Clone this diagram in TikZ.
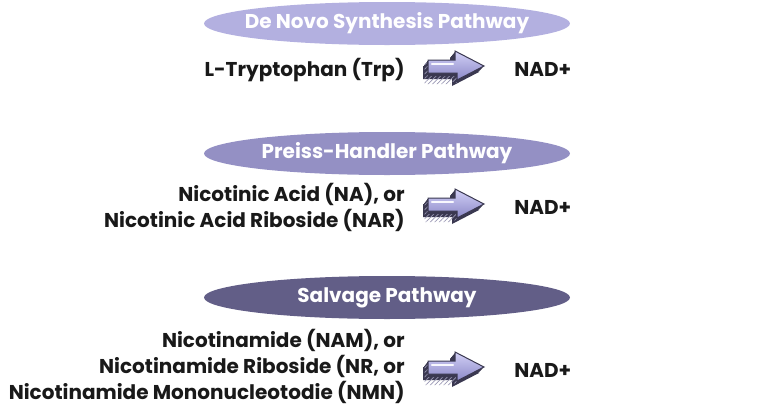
\documentclass[tikz,border=0pt]{standalone}
\usepackage{fontspec}
\setmainfont{Poppins}
\usetikzlibrary{shapes.geometric,patterns.meta}
\definecolor{lavA}{HTML}{B3B0E0}
\definecolor{lavB}{HTML}{9490C4}
\definecolor{lavC}{HTML}{625E87}
\definecolor{arrtop}{HTML}{D2D0F6}
\definecolor{arrbot}{HTML}{8C89C8}
\definecolor{arrside}{HTML}{3A3850}
\definecolor{hatch}{HTML}{9A98B4}
\tikzset{
  pathway/.style={ellipse, fill=#1, minimum width=183pt, minimum height=21.5pt, inner xsep=-30pt, inner ysep=0pt,
    text=white, font=\bfseries\fontsize{10}{13}\selectfont},
  compound/.style={font=\bfseries\fontsize{10}{13}\selectfont, inner sep=0pt, align=right, text=black!90},
}
\newcommand\blockarrow[1]{%
  \begin{scope}[shift={(#1)}]
    \foreach \d in {5,4,3,2,1}
      \fill[arrside, shift={(-\d,1.2*\d)}](-27,-6)--(0,-6)--(0,-15)--(29,0)--(2,14)--(2,7)--(-27,7)--cycle;
    \fill[pattern={Lines[angle=45,distance=1.6pt,line width=.35pt]}, pattern color=hatch, shift={(-2.5,3)}]
      (-28,-6)--(-25,-6)--(-25,7)--(4,7)--(4,14)--(-2,12)--(-2,15)--(-28,15)--cycle;
    \shade[top color=arrtop, bottom color=arrbot, draw=arrside, line width=.5pt]
      (-27,-6)--(0,-6)--(0,-15)--(29,0)--(2,14)--(2,7)--(-27,7)--cycle;
    \draw[white!85!arrtop, line width=1.2pt, line cap=round](-23,-2)--(-2,-2);
  \end{scope}}
\begin{document}
\begin{tikzpicture}[x=.5pt, y=-.5pt]
\useasboundingbox (0,0) rectangle (768,408);

\node[pathway=lavA] (denovo) at (387,23.5) {De Novo Synthesis Pathway};
\node[compound, anchor=east] (trp) at (405,70) {L-Tryptophan (Trp)};
\coordinate (arr1) at (455,66);
\blockarrow{arr1}
\node[compound, anchor=west] (nad1) at (514,69) {NAD+};

\node[pathway=lavB] (preiss) at (387,153.5) {Preiss-Handler Pathway};
\node[compound, anchor=east] (na) at (405,207.5) {Nicotinic Acid (NA), or\\Nicotinic Acid Riboside (NAR)};
\coordinate (arr2) at (455,204);
\blockarrow{arr2}
\node[compound, anchor=west] (nad2) at (514,207) {NAD+};

\node[pathway=lavC] (salvage) at (387,297.5) {Salvage Pathway};
\node[compound, anchor=east] (nam) at (405,366) {Nicotinamide (NAM), or\\Nicotinamide Riboside (NR, or\\Nicotinamide Mononucleotodie (NMN)};
\coordinate (arr3) at (455,367);
\blockarrow{arr3}
\node[compound, anchor=west] (nad3) at (514,370) {NAD+};

\end{tikzpicture}
\end{document}
